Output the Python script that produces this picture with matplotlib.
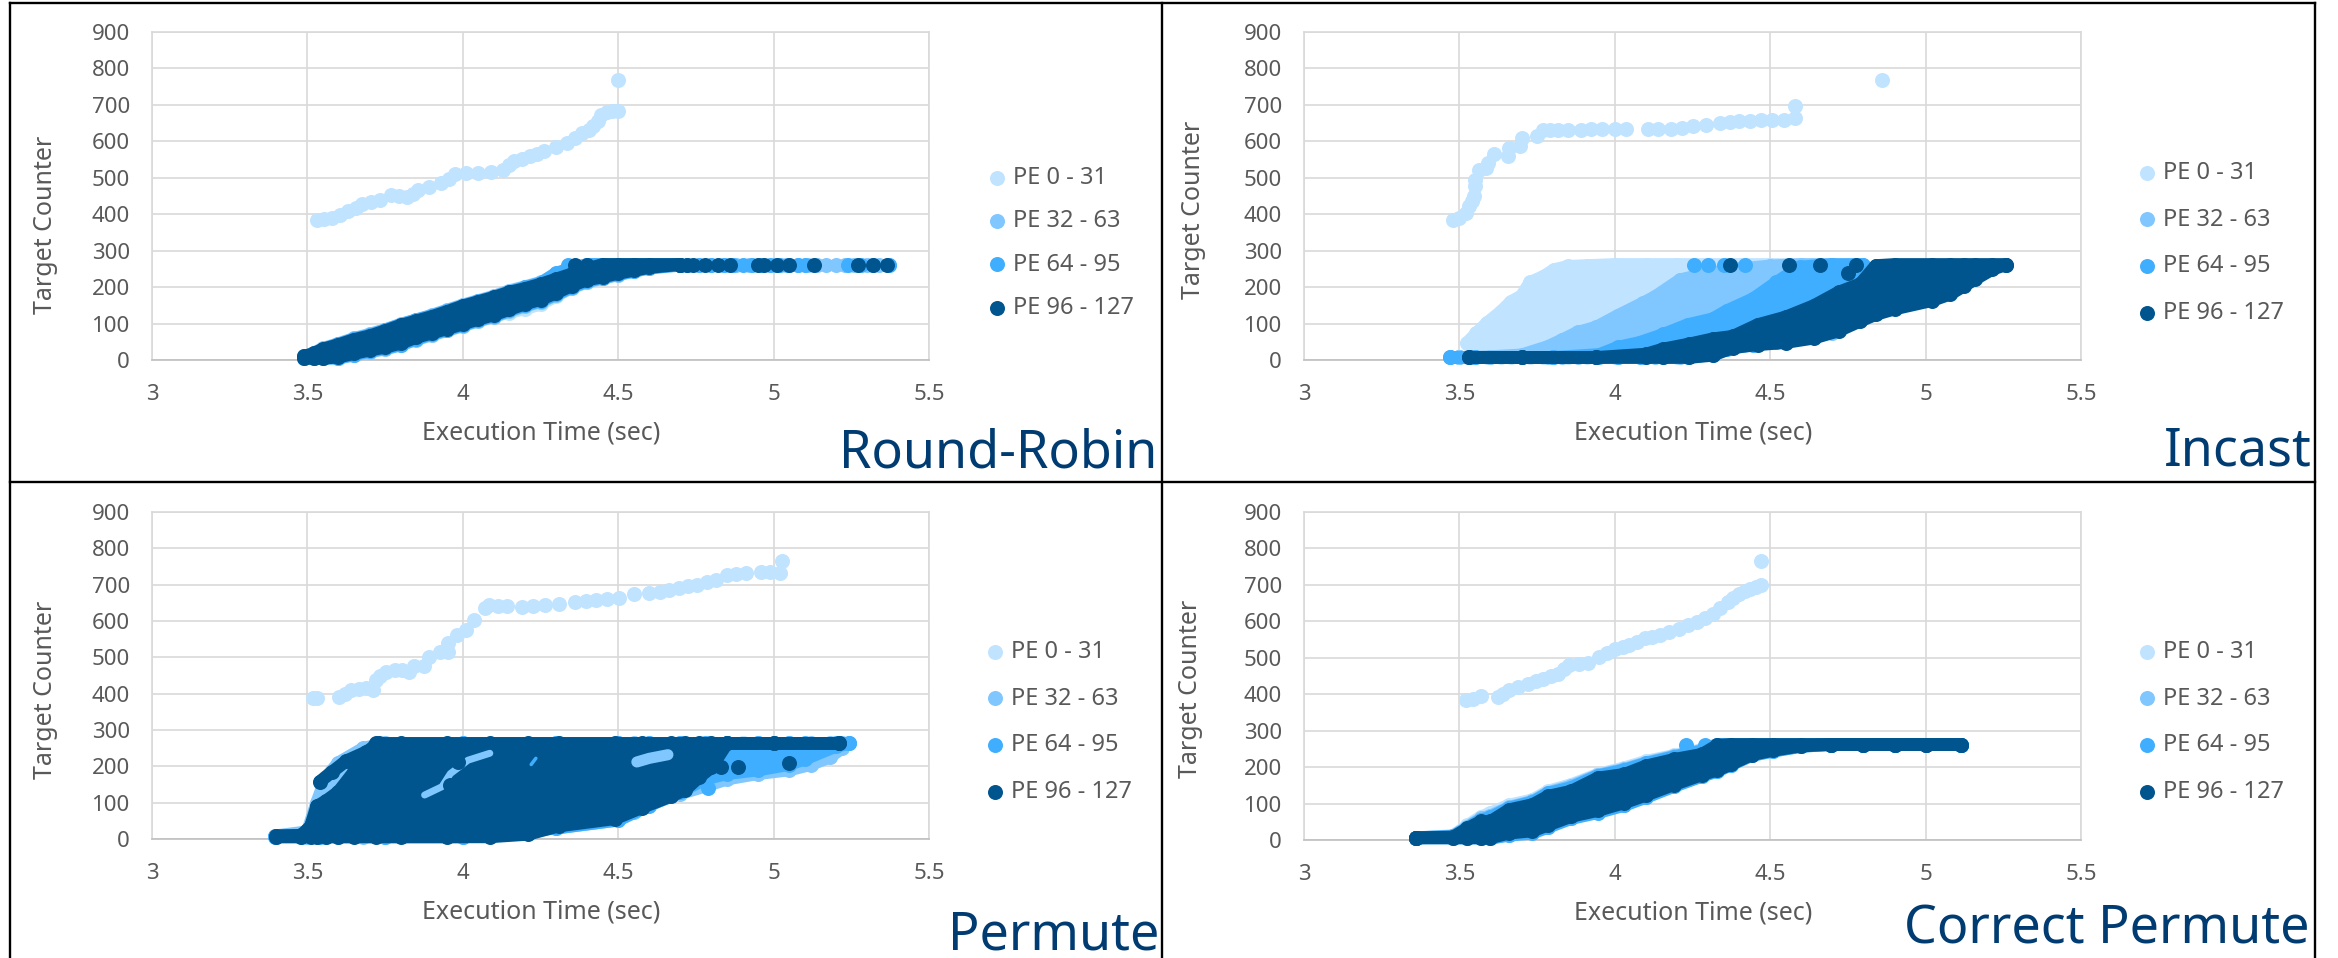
import matplotlib
matplotlib.use("Agg")
import matplotlib.pyplot as plt
from matplotlib.lines import Line2D

W, H = 2338, 958
COLORS = ["#C0E3FF", "#80C7FF", "#40AEFF", "#00558F"]
NAMES = ["PE 0 - 31", "PE 32 - 63", "PE 64 - 95", "PE 96 - 127"]
GREY = "#595959"
NAVY = "#003C71"
XTICKS = [3, 3.5, 4, 4.5, 5, 5.5]
XTICKLABELS = ["3", "3.5", "4", "4.5", "5", "5.5"]
YTICKS = [0, 100, 200, 300, 400, 500, 600, 700, 800, 900]
TOP_ROW = 262

# Round-Robin
rr_cx = [3.53, 3.555, 3.58, 3.605, 3.63, 3.655, 3.675, 3.705, 3.735, 3.77, 3.795, 3.82, 3.84, 3.855, 3.89, 3.93, 3.955, 3.975, 4.01, 4.05, 4.09, 4.13, 4.15, 4.165, 4.19, 4.215, 4.24, 4.26, 4.3, 4.335, 4.36, 4.385, 4.405, 4.42, 4.435, 4.445, 4.465, 4.48, 4.5, 4.5]
rr_cy = [385, 387, 391, 398, 408, 418, 427, 434, 440, 454, 450, 446, 456, 467, 475, 486, 498, 509, 512, 514, 517, 522, 535, 546, 551, 559, 566, 574, 584, 596, 608, 623, 632, 641, 657, 673, 680, 683, 683, 767]
rr_x = [3.49, 3.52, 3.55, 3.6, 3.65, 3.7, 3.75, 3.8, 3.85, 3.9, 3.95, 4.0, 4.05, 4.1, 4.15, 4.2, 4.25, 4.3, 4.35, 4.4, 4.45, 4.5, 4.55, 4.6, 4.7]
rr_hi1 = [10, 19, 31, 43, 59, 71, 83, 97, 109, 121, 135, 150, 161, 173, 187, 197, 209, 223, 243, 262, 262, 262, 262, 262, 262]
rr_lo1 = [5, 5, 5, 6, 17, 26, 35, 45, 59, 73, 85, 97, 109, 121, 130, 141, 153, 175, 200, 218, 228, 238, 246, 254, 262]
rr_hi2 = [10, 19, 32, 45, 59, 70, 83, 98, 110, 123, 137, 151, 163, 175, 190, 201, 213, 228, 243, 262, 262, 262, 262, 262, 262]
rr_lo2 = [5, 5, 5, 5, 13, 22, 30, 41, 56, 69, 81, 94, 107, 119, 134, 148, 160, 178, 198, 214, 224, 234, 243, 252, 260]
rr_hi3 = [10, 18, 30, 43, 58, 68, 82, 97, 110, 121, 135, 149, 161, 173, 187, 199, 211, 238, 252, 262, 262, 262, 262, 262, 262]
rr_lo3 = [5, 5, 5, 6, 15, 24, 32, 42, 58, 71, 83, 96, 109, 121, 136, 150, 162, 180, 200, 216, 226, 235, 244, 253, 261]
rr_hi4 = [10, 18, 30, 42, 56, 66, 80, 95, 107, 119, 133, 148, 160, 172, 186, 196, 208, 222, 236, 250, 262, 262, 262, 262, 262]
rr_lo4 = [5, 5, 5, 8, 18, 27, 35, 46, 62, 74, 86, 99, 112, 124, 139, 154, 166, 184, 204, 220, 228, 238, 246, 254, 262]
rr_tail2 = [4.72, 4.76, 4.8, 4.84, 4.88, 4.92, 4.96, 5.0, 5.04, 5.08, 5.11, 5.14, 5.17, 5.2, 5.23, 5.26, 5.3, 5.34, 5.37]
rr_tail3 = [4.34, 4.72, 4.76, 4.8, 4.84, 4.87, 4.9, 4.93, 4.96, 4.99, 5.02, 5.05, 5.08, 5.1, 5.24, 5.28, 5.32, 5.37]
rr_tail4 = [4.36, 4.4, 4.72, 4.74, 4.78, 4.82, 4.86, 4.95, 4.97, 5.01, 5.05, 5.13, 5.27, 5.32, 5.365]

# Incast
inc_cx = [3.48, 3.498, 3.522, 3.532, 3.54, 3.546, 3.55, 3.55, 3.563, 3.587, 3.592, 3.61, 3.655, 3.66, 3.696, 3.70, 3.75, 3.77, 3.79, 3.817, 3.85, 3.89, 3.925, 3.96, 4.0, 4.035, 4.107, 4.14, 4.18, 4.215, 4.25, 4.295, 4.337, 4.37, 4.40, 4.435, 4.47, 4.505, 4.543, 4.58, 4.58, 4.86]
inc_cy = [385, 390, 403, 422, 435, 449, 477, 495, 520, 527, 541, 564, 559, 582, 587, 609, 614, 632, 631, 630, 631, 632, 633, 634, 634, 634, 634, 634, 634, 637, 641, 645, 649, 652, 655, 656, 658, 658, 658, 664, 698, 767]
inc_x1 = [3.524, 3.554, 3.588, 3.634, 3.666, 3.70, 3.727, 3.77, 3.805, 3.85, 3.91, 4.0, 4.1, 4.2, 4.3, 4.4, 4.5, 4.6]
inc_hi1 = [46, 73, 101, 133, 160, 176, 213, 229, 248, 257, 259, 262, 262, 262, 262, 262, 262, 262]
inc_lo1 = [7, 7, 7, 7, 7, 7, 7, 7, 7, 7, 7, 7, 7, 7, 20, 40, 50, 60]
inc_x2 = [3.5, 3.6, 3.7, 3.785, 3.83, 3.88, 3.94, 4.01, 4.09, 4.13, 4.21, 4.3, 4.4, 4.5, 4.6, 4.7]
inc_hi2 = [7, 9, 14, 37, 55, 76, 90, 122, 156, 174, 220, 238, 250, 258, 262, 262]
inc_lo2 = [7, 7, 7, 7, 7, 7, 7, 7, 7, 7, 7, 20, 40, 50, 60, 75]
inc_x3 = [3.47, 3.55, 3.8, 3.95, 4.01, 4.08, 4.155, 4.235, 4.315, 4.36, 4.445, 4.52, 4.595, 4.7, 4.8]
inc_hi3 = [7, 7, 7, 15, 35, 48, 70, 97, 113, 135, 168, 213, 255, 262, 262]
inc_lo3 = [7, 7, 7, 7, 7, 7, 7, 7, 15, 30, 42, 50, 60, 80, 120]
inc_x4 = [3.53, 3.7, 3.94, 4.1, 4.155, 4.24, 4.315, 4.38, 4.46, 4.55, 4.64, 4.72, 4.79, 4.84, 4.9, 5.02, 5.08, 5.125, 5.16, 5.215, 5.26]
inc_hi4 = [7, 7, 7, 16, 30, 44, 58, 65, 97, 118, 149, 186, 209, 259, 262, 262, 262, 262, 262, 262, 262]
inc_lo4 = [7, 7, 7, 7, 7, 7, 13, 34, 42, 48, 60, 80, 107, 125, 140, 163, 181, 204, 222, 249, 262]
inc_tail3 = [4.256, 4.30, 4.35, 4.42]
inc_tail4 = [4.37, 4.56, 4.66, 4.775]
inc_extra4_x = [4.75]
inc_extra4_y = [240]

# Permute
prm_cx = [3.519, 3.53, 3.603, 3.62, 3.64, 3.665, 3.687, 3.71, 3.72, 3.735, 3.754, 3.783, 3.805, 3.826, 3.843, 3.874, 3.89, 3.927, 3.951, 3.951, 3.98, 4.01, 4.035, 4.07, 4.083, 4.113, 4.143, 4.19, 4.225, 4.263, 4.31, 4.36, 4.395, 4.43, 4.465, 4.503, 4.55, 4.6, 4.635, 4.665, 4.695, 4.725, 4.755, 4.785, 4.815, 4.85, 4.88, 4.91, 4.96, 4.99, 5.02, 5.027]
prm_cy = [388, 388, 392, 400, 410, 412, 415, 410, 438, 450, 461, 466, 464, 461, 475, 475, 502, 516, 539, 516, 562, 576, 603, 635, 645, 642, 640, 638, 641, 645, 648, 651, 654, 657, 660, 663, 675, 677, 681, 686, 690, 695, 700, 706, 713, 727, 730, 732, 736, 735, 732, 766]
prm_x1 = [3.5, 3.6, 3.75, 4.3, 4.5, 4.7, 4.9]
prm_hi1 = [12, 130, 263, 263, 263, 263, 263]
prm_lo1 = [6, 6, 6, 30, 56, 140, 263]
prm_x2 = [3.4, 3.5, 3.53, 3.56, 3.6, 3.68, 3.75, 4.0, 4.3, 4.5, 4.55, 4.6, 4.7, 4.79, 4.85, 4.95, 5.05, 5.12, 5.18, 5.22]
prm_hi2 = [9, 20, 100, 170, 210, 250, 263, 263, 263, 263, 263, 263, 263, 263, 263, 263, 263, 263, 263, 263]
prm_lo2 = [6, 6, 6, 6, 6, 6, 6, 6, 30, 52, 74, 95, 125, 148, 165, 180, 190, 205, 225, 250]
prm_x3 = [3.395, 3.48, 3.54, 3.75, 4.0, 4.3, 4.5, 4.6, 4.7, 4.78, 4.85, 4.95, 5.05, 5.1, 5.2, 5.243]
prm_hi3 = [9, 10, 60, 150, 263, 263, 263, 263, 263, 263, 263, 263, 263, 263, 263, 263]
prm_lo3 = [6, 6, 6, 6, 6, 30, 52, 92, 130, 165, 180, 190, 205, 220, 255, 263]
prm_x4 = [3.40, 3.48, 3.51, 3.53, 3.56, 3.6, 3.65, 3.72, 3.8, 3.95, 4.087, 4.21, 4.31, 4.49, 4.575, 4.67, 4.715, 4.76, 4.8, 4.85, 5.0, 5.21]
prm_hi4 = [9, 10, 35, 90, 105, 130, 185, 263, 263, 263, 263, 263, 263, 263, 263, 263, 263, 263, 263, 263, 263, 263]
prm_lo4 = [6, 6, 6, 6, 6, 6, 6, 6, 6, 6, 6, 13, 36, 56, 86, 118, 135, 170, 197, 263, 263, 263]
prm_strand_x = [3.54, 3.58, 3.625, 3.69, 3.73]
prm_strand_y = [158, 185, 215, 240, 263]
prm_extra3_x = [4.79]
prm_extra3_y = [139]
prm_extra4_x = [4.83, 4.885, 5.05]
prm_extra4_y = [197, 197, 210]
# places where the lighter series shows through the dark one
prm_gap1_x = [3.877, 3.933, 3.96, 4.017, 4.087]
prm_gap1_y = [121, 144, 180, 217, 236]
prm_gap2_x = [4.56, 4.6, 4.66]
prm_gap2_y = [212, 222, 232]
prm_gap3_x = [4.22, 4.235]
prm_gap3_y = [205, 222]
prm_edge_x = [3.96, 3.985, 4.06]
prm_edge_y = [149, 213, 196]

# Correct Permute
cp_cx = [3.52, 3.545, 3.57, 3.624, 3.64, 3.66, 3.69, 3.72, 3.745, 3.77, 3.795, 3.817, 3.835, 3.853, 3.885, 3.914, 3.95, 3.975, 4.0, 4.025, 4.047, 4.07, 4.096, 4.12, 4.145, 4.175, 4.205, 4.235, 4.266, 4.29, 4.315, 4.34, 4.363, 4.38, 4.4, 4.42, 4.436, 4.455, 4.47, 4.47]
cp_cy = [383, 386, 394, 392, 400, 411, 420, 429, 436, 443, 449, 456, 468, 479, 482, 486, 502, 512, 525, 530, 534, 544, 553, 557, 562, 571, 580, 589, 598, 609, 621, 637, 653, 664, 676, 683, 690, 695, 699, 766]
cp_x = [3.36, 3.48, 3.526, 3.57, 3.6, 3.66, 3.735, 3.785, 3.86, 3.945, 4.03, 4.10, 4.19, 4.28, 4.33, 4.375, 4.44, 4.51, 4.6, 4.695, 4.8, 4.9, 5.0, 5.115]
cp_hi1 = [6, 12, 40, 64, 74, 96, 110, 134, 152, 180, 198, 216, 232, 248, 262, 262, 262, 262, 262, 262, 262, 262, 262, 262]
cp_lo1 = [6, 6, 6, 6, 6, 19, 25, 41, 65, 81, 102, 123, 152, 179, 192, 208, 234, 246, 258, 262, 262, 262, 262, 262]
cp_hi2 = [6, 11, 36, 59, 66, 90, 106, 130, 148, 178, 194, 212, 230, 246, 262, 262, 262, 262, 262, 262, 262, 262, 262, 262]
cp_lo2 = [6, 6, 6, 6, 5, 15, 21, 37, 61, 77, 97, 119, 148, 176, 190, 207, 232, 244, 257, 262, 262, 262, 262, 262]
cp_hi3 = [6, 10, 34, 56, 62, 88, 104, 128, 144, 176, 192, 210, 228, 244, 262, 262, 262, 262, 262, 262, 262, 262, 262, 262]
cp_lo3 = [6, 6, 6, 6, 5, 13, 19, 35, 59, 75, 95, 117, 147, 175, 189, 207, 232, 244, 257, 262, 262, 262, 262, 262]
cp_hi4 = [6, 8, 32, 51, 51, 83, 97, 120, 134, 170, 180, 203, 221, 235, 260, 262, 262, 262, 262, 262, 262, 262, 262, 262]
cp_lo4 = [6, 6, 6, 6, 6, 19, 25, 41, 65, 81, 102, 123, 152, 179, 192, 208, 234, 246, 258, 262, 262, 262, 262, 262]
cp_tail3 = [4.228, 4.29]

MS = 10.8
LW = 9.2


def dots(ax, x, y, i, label=None):
    ax.scatter(x, y, s=MS ** 2, color=COLORS[i], linewidths=0, zorder=3 + i, clip_on=False, label=label)


def band(ax, x, lo, hi, i):
    ax.fill_between(x, lo, hi, color=COLORS[i], linewidth=0, zorder=3 + i, clip_on=False)
    for edge in (lo, hi):
        ax.plot(x, edge, color=COLORS[i], lw=LW, marker="o", ms=MS, mew=0, zorder=3 + i,
                clip_on=False, solid_capstyle="round", solid_joinstyle="round")


def make_axes(fig, left, right, top, bottom):
    ax = fig.add_axes([left / W, 1 - bottom / H, (right - left) / W, (bottom - top) / H])
    ax.set_xlim(3, 5.5)
    ax.set_ylim(0, 900)
    ax.set_xticks(XTICKS)
    ax.set_xticklabels(XTICKLABELS)
    ax.set_yticks(YTICKS)
    ax.grid(True, color="#D9D9D9", lw=1.2)
    ax.set_axisbelow(True)
    ax.tick_params(length=0, labelsize=16, labelcolor=GREY)
    ax.tick_params(axis="x", pad=17)
    ax.tick_params(axis="y", pad=16)
    for side in ("top", "left", "right"):
        ax.spines[side].set_color("#D9D9D9")
        ax.spines[side].set_linewidth(1.2)
    ax.spines["bottom"].set_color("#BFBFBF")
    ax.spines["bottom"].set_linewidth(1.2)
    return ax


def finish(fig, ax, xlab, ylab, legend_x, legend_y, spacing, title, title_xy):
    ax.set_xlabel("Execution Time (sec)", fontsize=18, color=GREY, va="center")
    ax.xaxis.set_label_coords(xlab[0] / W, 1 - xlab[1] / H, transform=fig.transFigure)
    ax.set_ylabel("Target Counter", fontsize=18, color=GREY, va="center")
    ax.yaxis.set_label_coords(ylab[0] / W, 1 - ylab[1] / H, transform=fig.transFigure)
    ax.legend(loc="center left", bbox_to_anchor=(legend_x / W, 1 - legend_y / H), bbox_transform=fig.transFigure,
              frameon=False, fontsize=17, labelcolor=GREY, borderpad=0, borderaxespad=0,
              handlelength=0.53, handletextpad=0.4, labelspacing=spacing, scatterpoints=1)
    fig.text(title_xy[0] / W, 1 - title_xy[1] / H, title, fontsize=37.5, color=NAVY, ha="right", va="baseline")


plt.rcParams["font.family"] = ["Noto Sans", "DejaVu Sans"]
fig = plt.figure(figsize=(W / 100, H / 100), dpi=100)

# Round-Robin
ax = make_axes(fig, 152, 929, 32, 360)
dots(ax, rr_cx, rr_cy, 0, NAMES[0])
band(ax, rr_x, rr_lo1, rr_hi1, 0)
band(ax, rr_x, rr_lo2, rr_hi2, 1)
dots(ax, rr_tail2, [TOP_ROW] * len(rr_tail2), 1, NAMES[1])
band(ax, rr_x, rr_lo3, rr_hi3, 2)
dots(ax, rr_tail3, [TOP_ROW] * len(rr_tail3), 2, NAMES[2])
band(ax, rr_x, rr_lo4, rr_hi4, 3)
dots(ax, rr_tail4, [TOP_ROW] * len(rr_tail4), 3, NAMES[3])
finish(fig, ax, (541, 433), (46, 225), 991, 243, 0.82, "Round-Robin", (1157, 467))

# Incast
ax = make_axes(fig, 1304, 2081, 32, 360)
dots(ax, inc_cx, inc_cy, 0, NAMES[0])
band(ax, inc_x1, inc_lo1, inc_hi1, 0)
band(ax, inc_x2, inc_lo2, inc_hi2, 1)
dots(ax, inc_x2[:1], inc_lo2[:1], 1, NAMES[1])
band(ax, inc_x3, inc_lo3, inc_hi3, 2)
dots(ax, inc_tail3, [TOP_ROW] * len(inc_tail3), 2, NAMES[2])
band(ax, inc_x4, inc_lo4, inc_hi4, 3)
dots(ax, inc_tail4, [TOP_ROW] * len(inc_tail4), 3, NAMES[3])
dots(ax, inc_extra4_x, inc_extra4_y, 3)
finish(fig, ax, (1693, 433), (1193, 210), 2141, 243, 0.96, "Incast", (2312, 466))

# Permute
ax = make_axes(fig, 152, 929, 512, 839)
dots(ax, prm_cx, prm_cy, 0, NAMES[0])
band(ax, prm_x1, prm_lo1, prm_hi1, 0)
band(ax, prm_x2, prm_lo2, prm_hi2, 1)
dots(ax, prm_x2[:1], prm_lo2[:1], 1, NAMES[1])
band(ax, prm_x3, prm_lo3, prm_hi3, 2)
dots(ax, prm_extra3_x, prm_extra3_y, 2, NAMES[2])
band(ax, prm_x4, prm_lo4, prm_hi4, 3)
ax.plot(prm_strand_x, prm_strand_y, color=COLORS[3], lw=LW, marker="o", ms=MS, mew=0, zorder=6,
        solid_capstyle="round")
dots(ax, prm_extra4_x, prm_extra4_y, 3, NAMES[3])
ax.plot(prm_gap1_x, prm_gap1_y, color=COLORS[1], lw=5, zorder=9, solid_capstyle="round")
ax.plot(prm_gap2_x, prm_gap2_y, color=COLORS[1], lw=8, zorder=9, solid_capstyle="round")
ax.plot(prm_gap3_x, prm_gap3_y, color=COLORS[2], lw=2.5, zorder=9, solid_capstyle="round")
ax.scatter(prm_edge_x, prm_edge_y, s=MS ** 2, color=COLORS[3], linewidths=0, zorder=10)
finish(fig, ax, (541, 912), (46, 690), 989, 722, 0.96, "Permute", (1159, 949))

# Correct Permute
ax = make_axes(fig, 1304, 2081, 512, 840)
dots(ax, cp_cx, cp_cy, 0, NAMES[0])
band(ax, cp_x, cp_lo1, cp_hi1, 0)
band(ax, cp_x, cp_lo2, cp_hi2, 1)
dots(ax, cp_x[:1], cp_lo2[:1], 1, NAMES[1])
band(ax, cp_x, cp_lo3, cp_hi3, 2)
dots(ax, cp_tail3, [TOP_ROW] * len(cp_tail3), 2, NAMES[2])
band(ax, cp_x, cp_lo4, cp_hi4, 3)
dots(ax, cp_x[:1], cp_lo4[:1], 3, NAMES[3])
finish(fig, ax, (1693, 913), (1191, 689), 2141, 722, 0.96, "Correct Permute", (2309, 944))

# panel frame lines
for x0, y0, x1, y1 in ((10, 3, 2315, 3), (10, 482, 2315, 482), (10, 3, 10, 958), (1162, 3, 1162, 958), (2315, 3, 2315, 958)):
    fig.add_artist(Line2D([x0 / W, x1 / W], [1 - y0 / H, 1 - y1 / H], color="black", lw=1.7))

fig.savefig("out.png", dpi=100)
